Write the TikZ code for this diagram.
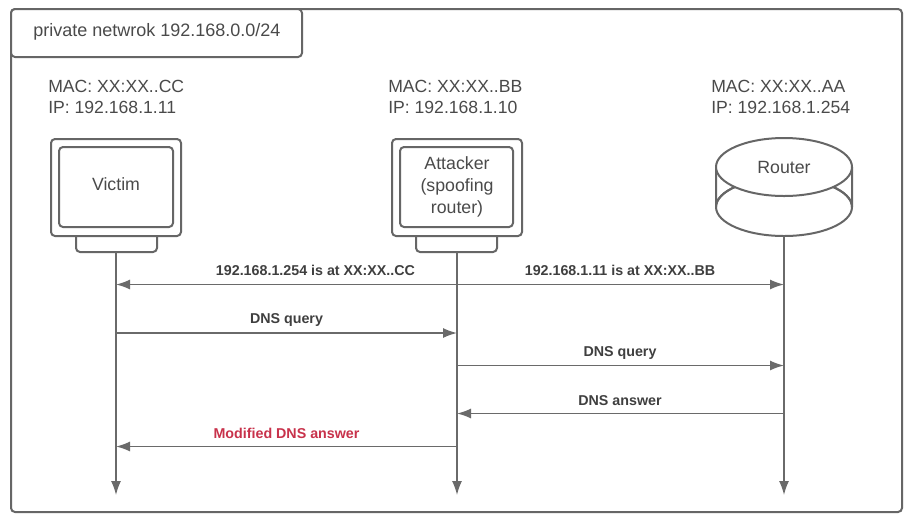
\documentclass[tikz,border=0pt]{standalone}
\usepackage{fontspec}
\setmainfont{Liberation Sans}
\usetikzlibrary{arrows.meta}
\definecolor{ln}{HTML}{6A6A6A}
\definecolor{fr}{HTML}{666666}
\definecolor{tx}{HTML}{4A4A4A}
\definecolor{bd}{HTML}{3F3F3F}
\definecolor{rd}{HTML}{C8324B}
\tikzset{
  frame/.style={draw=fr,line width=1.5pt,rounded corners=3pt,fill=white},
  lbl/.style={text=tx,font=\fontsize{13.3pt}{16pt}\selectfont,inner sep=0pt},
  info/.style={lbl,align=left,anchor=north west,font=\fontsize{13.2pt}{15.9pt}\selectfont},
  msg/.style={text=bd,font=\fontsize{10.7pt}{12pt}\selectfont\bfseries,inner sep=0pt},
  flow/.style={draw=ln,line width=1.1pt,-{Latex[length=10.5pt,width=7.5pt,color=ln]}},
  flowboth/.style={draw=ln,line width=1.1pt,{Latex[length=10.5pt,width=7.5pt,color=ln]}-{Latex[length=10.5pt,width=7.5pt,color=ln]}},
  life/.style={draw=ln,line width=1.1pt,-{Latex[length=10.5pt,width=7.5pt,color=ln]}}
}
\begin{document}
\begin{tikzpicture}[x=0.75pt,y=-0.75pt]
\useasboundingbox (0,0) rectangle (912,522);
\fill[white] (0,0) rectangle (912,522);
\draw[frame] (11,9) rectangle (902,512);
\draw[frame] (11,9) rectangle (302,57);
\node[lbl,anchor=west,font=\fontsize{13.5pt}{16pt}\selectfont] (title) at (33,32) {private netwrok 192.168.0.0/24};
\node[info] (infoV) at (48,80) {MAC: XX:XX..CC\\IP: 192.168.1.11};
\node[info] (infoA) at (388,80) {MAC: XX:XX..BB\\IP: 192.168.1.10};
\node[info] (infoR) at (711,80) {MAC: XX:XX..AA\\IP: 192.168.1.254};
% Victim
\draw[frame] (76,232) rectangle (157,252);
\draw[frame] (51,139) rectangle (181,236);
\draw[frame] (59,147) rectangle (173,227);
\node[lbl] (victim) at (116,184) {Victim};
\coordinate (vbase) at (116,252);
% Attacker
\draw[frame] (416,232) rectangle (497,252);
\draw[frame] (392,139) rectangle (522,236);
\draw[frame] (400,147) rectangle (513,227);
\node[lbl,align=center,font=\fontsize{13.3pt}{16.5pt}\selectfont] (attacker) at (457,187) {Attacker\\(spoofing\\router)};
\coordinate (abase) at (457,252);
% Router
\draw[draw=fr,line width=1.5pt,fill=white] (716,167) -- (716,207) arc[start angle=180,end angle=360,x radius=68,y radius=29] -- (852,167);
\draw[draw=fr,line width=1.5pt] (784,207) ellipse[x radius=68,y radius=29];
\draw[draw=fr,line width=1.5pt,fill=white] (784,167) ellipse[x radius=68,y radius=29];
\node[lbl] (router) at (784,167) {Router};
\coordinate (rbase) at (784,236);
% Lifelines
\coordinate (vend) at (116,495);
\coordinate (aend) at (457,495);
\coordinate (rend) at (784,495);
\draw[life] (vbase) -- (vend);
\draw[life] (abase) -- (aend);
\draw[life] (rbase) -- (rend);
% Messages
\coordinate (y1) at (0,284.5);
\coordinate (y2) at (0,333);
\coordinate (y3) at (0,365.5);
\coordinate (y4) at (0,413.5);
\coordinate (y5) at (0,446.5);
\draw[flowboth] (vbase|-y1) -- (rbase|-y1);
\draw[flow] (vbase|-y2) -- (abase|-y2);
\draw[flow] (abase|-y3) -- (rbase|-y3);
\draw[flow] (rbase|-y4) -- (abase|-y4);
\draw[flow] (abase|-y5) -- (vbase|-y5);
\node[msg] (m1) at (315.5,270.5) {192.168.1.254 is at XX:XX..CC};
\node[msg] (m2) at (620,270.5) {192.168.1.11 is at XX:XX..BB};
\node[msg] (m3) at (286.5,320) {DNS query};
\node[msg] (m4) at (620,353) {DNS query};
\node[msg] (m5) at (620,400.5) {DNS answer};
\node[msg,text=rd] (m6) at (286.5,433.5) {Modified DNS answer};
\end{tikzpicture}
\end{document}
